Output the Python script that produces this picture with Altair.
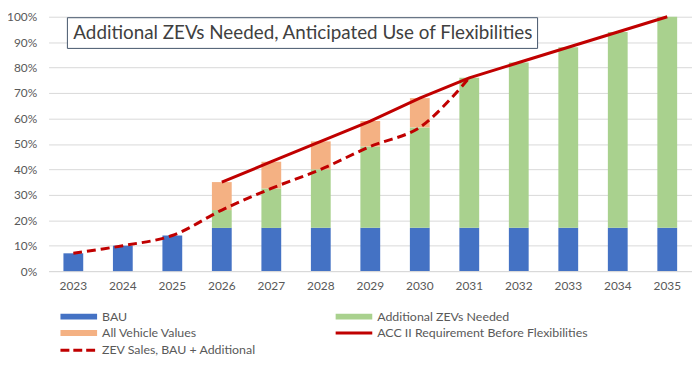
import altair as alt
import pandas as pd

# ---- data (percent of new vehicle sales) ----
years = [str(y) for y in range(2023, 2036)]
bau = [7, 10, 14, 17, 17, 17, 17, 17, 17, 17, 17, 17, 17]
zev_sales = [7, 10, 14, 24, 32.5, 40, 49, 56.5, 76, 82, 88, 94, 100]
requirement = [None, None, None, 35, 43, 51, 59, 68, 76, 82, 88, 94, 100]
y_ticks = [0, 10, 20, 30, 40, 50, 60, 70, 80, 90, 100]

series_names = ["BAU", "Additional ZEVs Needed", "All Vehicle Values"]
series_colors = ["#4472C4", "#A9D18E", "#F4B183"]
title_text = "Additional ZEVs Needed, Anticipated Use of Flexibilities"
line_names = ["ACC II Requirement Before Flexibilities", "ZEV Sales, BAU + Additional"]

# ---- build tables ----
bar_rows = []
for i, yr in enumerate(years):
    add = zev_sales[i] - bau[i]
    flex = (requirement[i] - zev_sales[i]) if requirement[i] is not None else 0
    flex = max(flex, 0)
    for k, (name, v) in enumerate(zip(series_names, [bau[i], add, flex])):
        bar_rows.append({"year": yr, "series": name, "value": v / 100, "ord": k})
bar_df = pd.DataFrame(bar_rows)

zev_df = pd.DataFrame({"year": years[:9], "value": [v / 100 for v in zev_sales[:9]]})
req_df = pd.DataFrame({"year": [y for y, r in zip(years, requirement) if r is not None],
                       "value": [r / 100 for r in requirement if r is not None]})

FONT = "Lato"
LBL = "#595959"
RED = "#C00000"

xenc = alt.X("year:O", sort=years, title=None,
             scale=alt.Scale(paddingInner=0.6, paddingOuter=0.3),
             axis=alt.Axis(labelAngle=0, ticks=False, domainColor="#D9D9D9",
                           labelColor=LBL, labelFont=FONT, labelFontSize=12,
                           labelPadding=10, grid=False))

yaxis = alt.Axis(format="%", values=[t / 100 for t in y_ticks],
                 ticks=False, domain=False, gridColor="#D9D9D9", labelOverlap=False,
                 labelColor=LBL, labelFont=FONT, labelFontSize=12, labelPadding=12)
yscale = alt.Scale(domain=[0, 1], nice=False)

bars = alt.Chart(bar_df).mark_bar().encode(
    x=xenc,
    y=alt.Y("value:Q", stack="zero", title=None, scale=yscale, axis=yaxis),
    color=alt.Color("series:N", scale=alt.Scale(domain=series_names, range=series_colors),
                    legend=None),
    order=alt.Order("ord:Q"),
)

dashed = alt.Chart(zev_df).mark_line(color=RED, strokeWidth=3, strokeDash=[9, 5],
                                     interpolate="catmull-rom").encode(
    x=xenc, y=alt.Y("value:Q", title=None, scale=yscale, axis=yaxis))

solid = alt.Chart(req_df).mark_line(color=RED, strokeWidth=3).encode(
    x=xenc, y=alt.Y("value:Q", title=None, scale=yscale, axis=yaxis))

one = pd.DataFrame({"a": [0]})

title_box = alt.Chart(one).mark_rect(fill="white", stroke="#44546A", strokeWidth=1).encode(
    x=alt.value(19), x2=alt.value(494), y=alt.value(1), y2=alt.value(32))
title_mark = alt.Chart(one).mark_text(text=title_text, align="left", baseline="middle",
                                      font=FONT, fontSize=19, color="#404040").encode(
    x=alt.value(25), y=alt.value(16.5))

# ---- custom legend ----
leg = []
items = [
    (series_names[0], "rect", series_colors[0], 12, 303),
    (series_names[2], "rect", series_colors[2], 12, 319.5),
    (line_names[1], "dash", RED, 12, 337),
    (series_names[1], "rect", series_colors[1], 290, 303),
    (line_names[0], "line", RED, 290, 319.5),
]
for label, kind, col, x0, y0 in items:
    if kind == "rect":
        leg.append(alt.Chart(one).mark_rect(color=col).encode(
            x=alt.value(x0), x2=alt.value(x0 + 37), y=alt.value(y0 - 3), y2=alt.value(y0 + 3)))
    elif kind == "line":
        leg.append(alt.Chart(one).mark_rule(color=col, strokeWidth=3).encode(
            x=alt.value(x0), x2=alt.value(x0 + 37), y=alt.value(y0)))
    else:
        leg.append(alt.Chart(one).mark_rule(color=col, strokeWidth=3, strokeDash=[9, 4]).encode(
            x=alt.value(x0), x2=alt.value(x0 + 37), y=alt.value(y0)))
    leg.append(alt.Chart(one).mark_text(text=label, align="left", baseline="middle",
                                        font=FONT, fontSize=12.5, color=LBL).encode(
        x=alt.value(x0 + 42), y=alt.value(y0)))

chart = alt.layer(bars, dashed, solid, title_box, title_mark, *leg).properties(
    width=650, height=257,
    autosize=alt.AutoSizeParams(type="none"),
    padding={"left": 41, "top": 7, "right": 0, "bottom": 90},
).configure_view(stroke=None)

chart.save("out.html", embed_options={"renderer": "svg", "actions": False})
